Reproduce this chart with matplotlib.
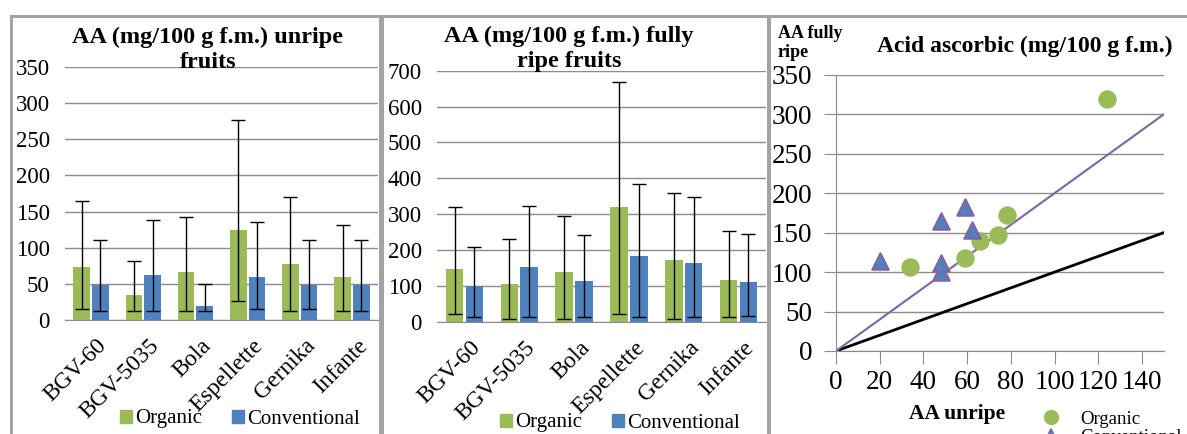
import matplotlib
matplotlib.use("Agg")
import matplotlib.pyplot as plt
from matplotlib.lines import Line2D
from matplotlib.patches import Patch, Rectangle
from matplotlib.transforms import ScaledTranslation

plt.rcParams['font.family'] = ['Liberation Serif', 'DejaVu Serif']

# data
cultivars = ['BGV-60', 'BGV-5035', 'Bola', 'Espellette', 'Gernika', 'Infante']

unripe_org = [74, 34, 66, 124, 78, 59]
unripe_org_lo = [15, 13, 13, 26, 13, 13]
unripe_org_hi = [165, 81, 143, 276, 170, 131]
unripe_conv = [48, 62, 20, 59, 48, 48]
unripe_conv_lo = [13, 13, 13, 15, 15, 13]
unripe_conv_hi = [110, 138, 50, 135, 110, 111]

ripe_org = [147, 107, 139, 319, 172, 118]
ripe_org_lo = [23, 9, 9, 23, 9, 14]
ripe_org_hi = [321, 231, 295, 668, 360, 253]
ripe_conv = [100, 153, 114, 183, 165, 111]
ripe_conv_lo = [14, 14, 14, 14, 14, 18]
ripe_conv_hi = [209, 324, 242, 385, 348, 245]

ref_slopes = [1, 2]   # y = x (black) and y = 2x (purple)

GREEN = '#9BBB59'
BLUE = '#4F81BD'
PURPLE = '#8064A2'
GRID = '#8c8c8c'
BORDER = '#a3a3a3'

W, H = 1187, 434


def box(x0, y0, x1, y1):
    return [x0 / W, 1 - y1 / H, (x1 - x0) / W, (y1 - y0) / H]


def bar_panel(ax, org, org_lo, org_hi, conv, conv_lo, conv_hi, ymax, step):
    x = range(len(cultivars))
    xo = [i - 0.18 for i in x]
    xc = [i + 0.18 for i in x]
    ax.bar(xo, org, width=0.32, color=GREEN, zorder=2)
    ax.bar(xc, conv, width=0.32, color=BLUE, zorder=2)
    ax.errorbar(xo, org, yerr=[[v - l for v, l in zip(org, org_lo)], [h - v for v, h in zip(org, org_hi)]],
                fmt='none', ecolor='black', elinewidth=1, capsize=5, capthick=1, zorder=3)
    ax.errorbar(xc, conv, yerr=[[v - l for v, l in zip(conv, conv_lo)], [h - v for v, h in zip(conv, conv_hi)]],
                fmt='none', ecolor='black', elinewidth=1, capsize=5, capthick=1, zorder=3)
    ax.set_xlim(-0.5, len(cultivars) - 0.5)
    ax.set_ylim(0, ymax)
    ax.set_yticks(range(0, ymax + 1, step))
    ax.set_xticks(list(x))
    ax.set_xticklabels(cultivars, rotation=45, ha='right', va='top', rotation_mode='anchor')
    ax.tick_params(axis='both', length=0, labelsize=16.5)
    ax.tick_params(axis='x', labelsize=17, pad=11)
    ax.tick_params(axis='y', pad=11)
    shift = ScaledTranslation(5 / 100, 0, fig.dpi_scale_trans)
    for lab in ax.get_xticklabels():
        lab.set_transform(lab.get_transform() + shift)
    ax.grid(axis='y', color=GRID, lw=1)
    ax.set_axisbelow(True)
    for s in ['top', 'right', 'left']:
        ax.spines[s].set_visible(False)
    ax.spines['bottom'].set_color(GRID)
    ax.set_facecolor('none')


fig = plt.figure(figsize=(W / 100, H / 100), dpi=100)

# panel borders
for x0, x1 in [(10.5, 379.5), (382, 767.5), (768.5, 1200)]:
    fig.add_artist(Rectangle((x0 / W, -0.1), (x1 - x0) / W, 1.1 - 16 / H,
                             transform=fig.transFigure, fill=False,
                             edgecolor=BORDER, lw=2.2, clip_on=False))

ax1 = fig.add_axes(box(65, 67, 378, 320))
bar_panel(ax1, unripe_org, unripe_org_lo, unripe_org_hi,
          unripe_conv, unripe_conv_lo, unripe_conv_hi, 350, 50)
fig.text(208 / W, 1 - 50 / H, 'AA (mg/100 g f.m.) unripe\nfruits', ha='center', va='center',
         fontsize=17.5, fontweight='bold', linespacing=1.2)

ax2 = fig.add_axes(box(437, 70.7, 766, 322))
bar_panel(ax2, ripe_org, ripe_org_lo, ripe_org_hi,
          ripe_conv, ripe_conv_lo, ripe_conv_hi, 700, 100)
fig.text(569 / W, 1 - 49 / H, 'AA (mg/100 g f.m.) fully\nripe fruits', ha='center', va='center',
         fontsize=17.5, fontweight='bold', linespacing=1.2)

bar_handles = [Patch(color=GREEN), Patch(color=BLUE)]
fig.legend(bar_handles, ['Organic', 'Conventional'], loc='center', ncol=2,
           bbox_to_anchor=(240 / W, 1 - 419 / H), frameon=False, fontsize=15,
           handlelength=0.6, handleheight=0.6, handletextpad=0.15, columnspacing=1.4)
fig.legend(bar_handles, ['Organic', 'Conventional'], loc='center', ncol=2,
           bbox_to_anchor=(620 / W, 1 - 423 / H), frameon=False, fontsize=15,
           handlelength=0.6, handleheight=0.6, handletextpad=0.15, columnspacing=1.4)

# scatter panel
ax3 = fig.add_axes(box(836, 74.7, 1164, 351))
ax3.set_xlim(0, 150)
ax3.set_ylim(0, 350)
ax3.set_xticks(range(0, 141, 20))
ax3.set_yticks(range(0, 351, 50))
ax3.grid(axis='y', color=GRID, lw=1)
ax3.set_axisbelow(True)
ax3.axline((0, 0), slope=ref_slopes[0], color='black', lw=2, zorder=2)
ax3.axline((0, 0), slope=ref_slopes[1], color=PURPLE, lw=1.5, zorder=2)
ax3.scatter(unripe_org, ripe_org, s=150, color=GREEN, zorder=3)
ax3.scatter(unripe_conv, ripe_conv, s=140, marker='^', color=BLUE,
            edgecolor=PURPLE, linewidth=1.5, zorder=4)
for s in ['top', 'right']:
    ax3.spines[s].set_visible(False)
for s in ['left', 'bottom']:
    ax3.spines[s].set_color(GRID)
ax3.tick_params(axis='both', direction='out', length=9, color=GRID, labelsize=19.5)
ax3.tick_params(axis='y', pad=8)
ax3.tick_params(axis='x', pad=5)
ax3.set_facecolor('none')

fig.text(1025 / W, 1 - 46 / H, 'Acid ascorbic (mg/100 g f.m.)', ha='center', va='center',
         fontsize=17, fontweight='bold')
fig.text(778 / W, 1 - 43 / H, 'AA fully\nripe', ha='left', va='center',
         fontsize=13, fontweight='bold', linespacing=1.1)
fig.text(957 / W, 1 - 414 / H, 'AA unripe', ha='center', va='center',
         fontsize=15.5, fontweight='bold')

sc_handles = [Line2D([], [], ls='none', marker='o', ms=10, color=GREEN),
              Line2D([], [], ls='none', marker='^', ms=10, markerfacecolor=BLUE,
                     markeredgecolor=PURPLE, markeredgewidth=1.2)]
fig.legend(sc_handles, ['Organic', 'Conventional'], loc='upper left',
           bbox_to_anchor=(1030 / W, 1 - 401 / H), frameon=False, fontsize=13.5,
           handlelength=1.2, handletextpad=1.0, labelspacing=0.1, borderpad=0)

fig.savefig('out.png', dpi=100)
